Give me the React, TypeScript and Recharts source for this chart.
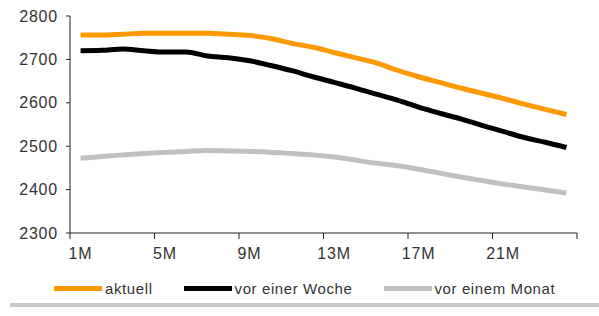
import { Line, LineChart, XAxis, YAxis } from 'recharts';

const months = [1, 2, 3, 4, 5, 6, 7, 8, 9, 10, 11, 12, 13, 14, 15, 16, 17, 18, 19, 20, 21, 22, 23, 24];
const aktuell = [
  2756, 2756, 2758, 2760, 2760, 2760, 2760, 2758, 2755, 2748, 2737, 2728,
  2716, 2704, 2692, 2675, 2660, 2647, 2634, 2622, 2610, 2597, 2585, 2573,
];
const vorWoche = [
  2720, 2721, 2724, 2720, 2717, 2717, 2708, 2704, 2697, 2686, 2674, 2660,
  2647, 2634, 2620, 2606, 2590, 2576, 2563, 2548, 2534, 2520, 2509, 2497,
];
const vorMonat = [
  2472, 2476, 2480, 2483, 2486, 2488, 2490, 2489, 2488, 2486, 2483, 2480,
  2475, 2468, 2461, 2455, 2447, 2438, 2429, 2421, 2413, 2406, 2399, 2392,
];
const yTicks = [2300, 2400, 2500, 2600, 2700, 2800];
// tick marks sit between categories, labels every 4th month
const markTicks = [0.5, 4.5, 8.5, 12.5, 16.5, 20.5, 24.5];

const series = [
  { key: 'aktuell', name: 'aktuell', color: '#ff9900' },
  { key: 'woche', name: 'vor einer Woche', color: '#000000' },
  { key: 'monat', name: 'vor einem Monat', color: '#c0c0c0' },
];

const data = months.map((m, i) => ({
  m,
  aktuell: aktuell[i],
  woche: vorWoche[i],
  monat: vorMonat[i],
}));

const font = 'Arial, "Liberation Sans", sans-serif';
const axisColor = '#222';
const tickStyle = { fontSize: 16, fill: '#333', fontFamily: font, letterSpacing: 0.8 };

function LegendRow() {
  return (
    <div
      style={{
        position: 'absolute',
        left: 54,
        top: 279,
        height: 18,
        display: 'flex',
        alignItems: 'center',
        whiteSpace: 'nowrap',
      }}
    >
      {series.map((s) => (
        <div key={s.key} style={{ display: 'flex', alignItems: 'center', marginRight: 31 }}>
          <span style={{ display: 'inline-block', width: 48, height: 5, background: s.color, marginRight: 3 }} />
          <span style={{ fontSize: 15, color: '#333', fontFamily: font, letterSpacing: 0.6 }}>{s.name}</span>
        </div>
      ))}
    </div>
  );
}

export default function App() {
  return (
    <div style={{ position: 'absolute', left: 0, top: 0, width: 599, height: 316, background: '#fff' }}>
      <LineChart width={599} height={316} data={data} margin={{ top: 16, right: 22, bottom: 38, left: 0 }}>
        <XAxis
          type="number"
          dataKey="m"
          domain={[0.5, 24.5]}
          ticks={markTicks}
          interval={0}
          stroke={axisColor}
          tickMargin={9}
          tickFormatter={(v) => (v < months.length ? `${v + 0.5}M` : '')}
          tick={{ ...tickStyle, dx: 10.5 }}
          height={45}
        />
        <YAxis
          type="number"
          domain={[2300, 2800]}
          ticks={yTicks}
          width={70}
          tickSize={4}
          tickMargin={8}
          stroke={axisColor}
          tick={tickStyle}
        />
        {series.map((s) => (
          <Line
            key={s.key}
            type="monotone"
            dataKey={s.key}
            name={s.name}
            stroke={s.color}
            strokeWidth={5}
            dot={false}
            isAnimationActive={false}
          />
        ))}
      </LineChart>
      <LegendRow />
      <div style={{ position: 'absolute', left: 10, top: 303, width: 589, height: 4, background: '#c8c8c8' }} />
    </div>
  );
}
